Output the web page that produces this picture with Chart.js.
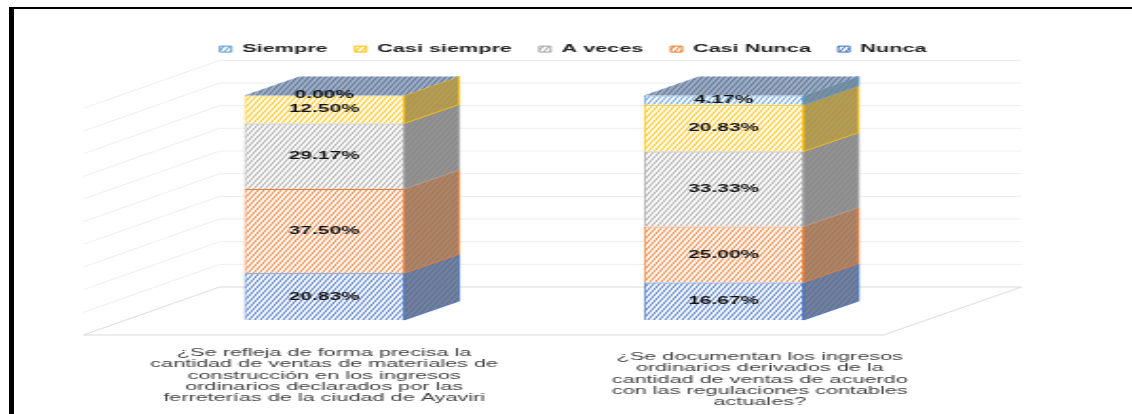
<!DOCTYPE html>
<html>
<head>
<meta charset="utf-8">
<script src="https://cdn.jsdelivr.net/npm/chart.js@4"></script>
<style>
  html, body { margin: 0; background: #fff; overflow: hidden; }
  #frame { position: absolute; left: 9px; top: 7px; width: 1123px; height: 407px; border-left: 5px solid #000; border-top: 2px solid #000; box-sizing: border-box; z-index: 2; pointer-events: none; }
  /* the reference is a picture stretched sideways, so the canvas gets stretched too */
  #chart { position: absolute; left: 0; top: 0; transform-origin: 0 0; transform: scaleX(1.9); filter: blur(0.35px); }
</style>
</head>
<body>
<div id="frame"></div>
<canvas id="chart" width="596" height="414"></canvas>
<script>
// ---- Data ----
const categories = [
  ['¿Se refleja de forma precisa la', 'cantidad de ventas de materiales de', 'construcción en los ingresos', 'ordinarios declarados por las', 'ferreterías de la ciudad de Ayaviri'],
  ['¿Se documentan los ingresos', 'ordinarios derivados de la', 'cantidad de ventas de acuerdo', 'con las regulaciones contables', 'actuales?']
];
const seriesNames = ['Nunca', 'Casi Nunca', 'A veces', 'Casi siempre', 'Siempre'];
const nunca = [20.83, 16.67];
const casiNunca = [37.5, 25];
const aVeces = [29.17, 33.33];
const casiSiempre = [12.5, 20.83];
const siempre = [0, 4.17];
const seriesColors = ['#4472c4', '#ed7d31', '#a5a5a5', '#ffc000', '#5b9bd5'];

const SX = 1.9; // horizontal stretch of the page

// diagonal hatch like the office pattern fills
function hatch(color) {
  const tile = document.createElement('canvas');
  tile.width = 3; tile.height = 6;
  const c = tile.getContext('2d');
  c.fillStyle = '#fff';
  c.fillRect(0, 0, 3, 6);
  c.strokeStyle = color;
  c.lineWidth = 1;
  [-3, 0, 3].forEach(dx => {
    c.beginPath();
    c.moveTo(dx, 6);
    c.lineTo(dx + 3, 0);
    c.stroke();
  });
  return c.createPattern(tile, 'repeat');
}

// ---- Walls, floor and the sides of the boxes ----
const box3d = {
  id: 'box3d',
  beforeLayout(chart) {
    // legend runs across the whole canvas and leaves a gap above the plot
    const legend = chart.legend;
    if (legend && !legend._patched) {
      const fit = legend.fit;
      legend.fit = function () {
        this.maxWidth = chart.width;
        fit.call(this);
        this.height += 30.6;
      };
      legend._patched = true;
    }
  },
  afterLayout(chart) {
    chart.legend.left = 3.7;
    chart.legend.right = chart.width + 3.7;
    // second label sits off centre in the reference
    const item = chart.scales.x.getLabelItems(chart.chartArea)[1];
    item.options.translation = [item.options.translation[0] + 19, item.options.translation[1] + 4];
  },
  beforeDatasetsDraw(chart) {
    const { ctx, chartArea: a, scales: { y } } = chart;
    const wallL = a.left + 95 / SX, wallR = a.right + 98 / SX;
    const frontL = a.left - 41 / SX, frontR = a.right - 40 / SX;
    const bottom = y.getPixelForValue(0);
    ctx.save();
    ctx.lineWidth = 0.9;
    y.ticks.forEach(t => {
      const wy = bottom - 33 + (y.getPixelForValue(t.value) - bottom) * 1.009;
      ctx.strokeStyle = t.value === 0 ? '#d6d6d6' : '#ebebeb';
      ctx.beginPath();
      ctx.moveTo(frontL, wy + 48);
      ctx.lineTo(wallL, wy);
      ctx.lineTo(wallR, wy);
      if (t.value === 0) {
        ctx.moveTo(frontL, wy + 48);
        ctx.lineTo(frontR, wy + 48);
        ctx.lineTo(wallR, wy);
      }
      ctx.stroke();
    });
    ctx.restore();
  },
  afterDatasetsDraw(chart) {
    const { ctx, data } = chart;
    const dx = 55 / SX, dy = -19;
    ctx.save();
    data.datasets.forEach((ds, i) => {
      chart.getDatasetMeta(i).data.forEach(bar => {
        const right = bar.x + bar.width / 2;
        if (Math.abs(bar.base - bar.y) < 0.5) return;
        ctx.beginPath();
        ctx.moveTo(right, bar.base);
        ctx.lineTo(right + dx, bar.base + dy);
        ctx.lineTo(right + dx, bar.y + dy);
        ctx.lineTo(right, bar.y);
        ctx.closePath();
        ctx.fillStyle = ds.borderColor;
        ctx.fill();
        ctx.fillStyle = 'rgba(108,108,108,0.62)';
        ctx.fill();
        ctx.globalAlpha = 0.15;
        ctx.fillStyle = ds.backgroundColor;
        ctx.fill();
        ctx.globalAlpha = 1;
        ctx.strokeStyle = ds.borderColor;
        ctx.lineWidth = 0.8;
        ctx.stroke();
      });
    });
    // top face uses the last series whatever its height
    const last = data.datasets.length - 1;
    chart.getDatasetMeta(last).data.forEach(bar => {
      const l = bar.x - bar.width / 2, r = bar.x + bar.width / 2;
      ctx.beginPath();
      ctx.moveTo(l, bar.y);
      ctx.lineTo(l + dx, bar.y + dy);
      ctx.lineTo(r + dx, bar.y + dy);
      ctx.lineTo(r, bar.y);
      ctx.closePath();
      ctx.fillStyle = data.datasets[last].backgroundColor;
      ctx.fill();
      ctx.fillStyle = 'rgba(50,65,100,0.42)';
      ctx.fill();
    });
    // data labels
    ctx.fillStyle = '#111';
    ctx.font = 'bold 11px "Liberation Sans"';
    ctx.textAlign = 'center';
    ctx.textBaseline = 'middle';
    data.datasets.forEach((ds, i) => {
      chart.getDatasetMeta(i).data.forEach((bar, j) => {
        ctx.fillText(ds.data[j].toFixed(2) + '%', bar.x, (bar.y + bar.base) / 2);
      });
    });
    ctx.restore();
  }
};

const seriesValues = [nunca, casiNunca, aVeces, casiSiempre, siempre];

new Chart(document.getElementById('chart').getContext('2d'), {
  type: 'bar',
  data: {
    labels: categories,
    datasets: seriesNames.map((name, i) => ({
      label: name,
      data: seriesValues[i],
      backgroundColor: hatch(seriesColors[i]),
      borderColor: seriesColors[i],
      borderWidth: 1,
      barPercentage: 1,
      categoryPercentage: 0.4
    }))
  },
  options: {
    responsive: false,
    animation: false,
    devicePixelRatio: 1,
    layout: { padding: { left: 65.5, right: 110, top: 29, bottom: 0 } },
    plugins: {
      tooltip: { enabled: false },
      legend: {
        position: 'top',
        reverse: true,
        labels: {
          boxWidth: 6,
          boxHeight: 6,
          padding: 14.4,
          color: '#222',
          font: { family: 'Liberation Sans', size: 11.4, weight: 'bold' }
        }
      }
    },
    scales: {
      x: {
        stacked: true,
        grid: { display: false },
        border: { display: false },
        afterFit(scale) { scale.height = 94; },
        ticks: {
          autoSkip: false,
          maxRotation: 0,
          padding: 19,
          color: '#404040',
          font: { family: 'Liberation Sans', size: 11.4, lineHeight: 1 }
        }
      },
      y: {
        stacked: true,
        display: false,
        min: 0,
        max: 100,
        ticks: { stepSize: 10 }
      }
    }
  },
  plugins: [box3d]
});
</script>
</body>
</html>
